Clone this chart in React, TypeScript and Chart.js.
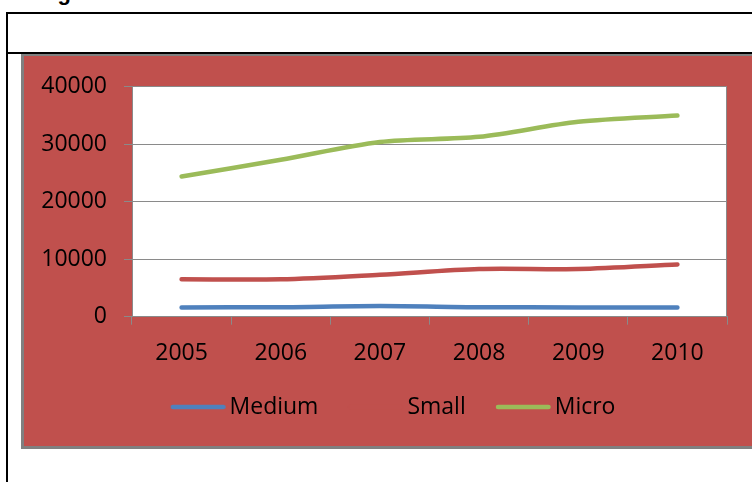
import React, { useEffect, useRef } from "react";
import { Chart, registerables } from "chart.js";

Chart.register(...registerables);

const years = ["2005", "2006", "2007", "2008", "2009", "2010"];
const medium = [1620, 1650, 1850, 1650, 1620, 1620];
const small = [6500, 6500, 7300, 8300, 8300, 9100];
const micro = [24400, 27300, 30400, 31300, 33900, 35000];
const seriesNames = ["Medium", "Small", "Micro"];
const seriesColors = ["#4F81BD", "#C0504D", "#9BBB59"];
const yMin = 0;
const yMax = 40000;
const yStep = 10000;

const GRAY = "#8a8a8a";
const FONT_FAMILY = '"Open Sans", sans-serif';

function legendLine(color: string) {
  const c = document.createElement("canvas");
  c.width = 63;
  c.height = 8;
  const g = c.getContext("2d")!;
  g.strokeStyle = color;
  g.lineWidth = 4.5;
  g.lineCap = "round";
  g.beginPath();
  g.moveTo(10, 4);
  g.lineTo(60.5, 4);
  g.stroke();
  return c;
}

const plotBg = {
  id: "plotBg",
  beforeDraw(chart: any) {
    const { ctx, chartArea: a } = chart;
    ctx.save();
    ctx.fillStyle = "#ffffff";
    ctx.fillRect(a.left, a.top, a.right - a.left, a.bottom - a.top);
    ctx.strokeStyle = GRAY;
    ctx.lineWidth = 1;
    ctx.beginPath();
    const rx = Math.round(a.right) - 0.5;
    ctx.moveTo(rx, a.top);
    ctx.lineTo(rx, a.bottom);
    ctx.stroke();
    ctx.restore();
  },
};

export default function App() {
  const ref = useRef<HTMLCanvasElement>(null);

  useEffect(() => {
    if (!ref.current) return;
    const font = { family: FONT_FAMILY, size: 23 };
    const images = seriesColors.map((c) => legendLine(c));
    const series = [medium, small, micro];
    const chart = new Chart(ref.current, {
      type: "line",
      data: {
        labels: years,
        datasets: series.map((d, i) => ({
          label: seriesNames[i],
          data: d,
          borderColor: seriesColors[i],
          backgroundColor: seriesColors[i],
          borderWidth: 4.5,
          borderCapStyle: "round",
          borderJoinStyle: "round",
          pointRadius: 0,
          pointHoverRadius: 0,
          tension: 0.3,
          fill: false,
          yAxisID: "y",
        })),
      },
      options: {
        responsive: false,
        animation: false,
        events: [],
        layout: { padding: { top: 29, right: 0, bottom: 17.5, left: 0 } },
        plugins: {
          tooltip: { enabled: false },
          legend: {
            position: "bottom",
            labels: {
              usePointStyle: true,
              pointStyleWidth: 47.5,
              padding: 30,
              color: "#000",
              font,
              generateLabels: (c: any) => {
                const items = (Chart.defaults.plugins.legend.labels as any).generateLabels(c);
                return items.map((it: any, i: number) => ({ ...it, pointStyle: images[i] }));
              },
            },
          },
        },
        scales: {
          x: {
            offset: true,
            grid: {
              offset: true,
              drawOnChartArea: false,
              drawTicks: true,
              tickLength: 8,
              color: GRAY,
            },
            border: { color: GRAY, width: 1 },
            ticks: { padding: 14.5, color: "#000", font, maxRotation: 0, autoSkip: false },
            afterFit: (s: any) => {
              s.height = 48.8;
            },
          },
          y: {
            min: yMin,
            max: yMax,
            grid: { color: GRAY, tickLength: 8, lineWidth: 1 },
            border: { color: GRAY, width: 1 },
            ticks: {
              stepSize: yStep,
              padding: 17,
              color: "#000",
              font,
              callback: (v: any) => String(v),
            },
            afterFit: (s: any) => {
              s.width = 108;
            },
          },
          y2: {
            position: "right",
            display: true,
            grid: { display: false },
            border: { display: false },
            ticks: { display: false },
            afterFit: (s: any) => {
              s.width = 35;
            },
          },
        },
      },
      plugins: [plotBg],
    } as any);
    return () => chart.destroy();
  }, []);

  return (
    <div
      style={{
        position: "fixed",
        left: 0,
        top: 0,
        width: 752,
        height: 482,
        overflow: "hidden",
        background: "#fff",
      }}
    >
      <div
        style={{
          position: "absolute",
          left: 38,
          top: -20,
          font: 'bold 22px "Liberation Sans", Arial, sans-serif',
          lineHeight: "26px",
          whiteSpace: "nowrap",
          color: "#000",
        }}
      >
        Figure 3: Trends of Number of SMEs
      </div>
      <div
        style={{
          position: "absolute",
          left: 6,
          top: 12,
          width: 900,
          height: 900,
          border: "2px solid #000",
          boxSizing: "border-box",
        }}
      />
      <div
        style={{
          position: "absolute",
          left: 21,
          top: 53,
          width: 900,
          height: 390,
          border: "3px solid #808080",
          background: "#C0504D",
        }}
      />
      <div
        style={{
          position: "absolute",
          left: 6,
          top: 51.5,
          width: 900,
          height: 2,
          background: "#000",
        }}
      />
      <canvas
        ref={ref}
        width={738}
        height={390}
        style={{ position: "absolute", left: 24, top: 56 }}
      />
    </div>
  );
}
